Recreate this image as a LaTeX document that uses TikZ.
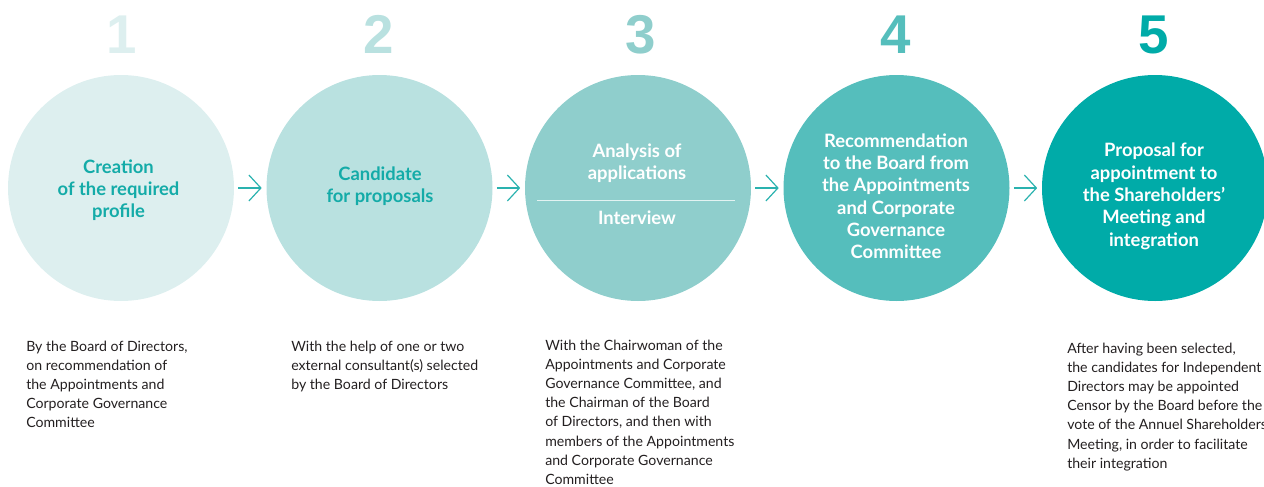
\documentclass[tikz,border=0pt]{standalone}
\usepackage{fontspec}
\setmainfont{Lato}
\setsansfont{Liberation Sans}
\usetikzlibrary{arrows.meta}
\definecolor{cA}{HTML}{DDEFEF}
\definecolor{cB}{HTML}{B9E1E0}
\definecolor{cC}{HTML}{8FCECC}
\definecolor{cD}{HTML}{55BEBC}
\definecolor{cE}{HTML}{00ABA8}
\definecolor{tealtext}{HTML}{14ABA8}
\definecolor{arrowc}{HTML}{2AB2AF}
\definecolor{bodytext}{HTML}{231F20}
\definecolor{divider}{HTML}{E3F3F2}
\newcommand{\bodypar}[1]{\parbox[t]{230pt}{\raggedright\fontsize{10.6}{14.4}\selectfont #1}}
\newcommand{\circpar}[1]{\parbox[t]{200pt}{\centering\bfseries\fontsize{13.8}{16.75}\selectfont #1}}
\begin{document}
\begin{tikzpicture}[x=0.75pt,y=-0.75pt,
  stage/.style={circle, minimum size=169.5pt, inner sep=0pt, fill=#1},
  num/.style={font=\sffamily\bfseries\fontsize{41}{41}\selectfont, text=#1, anchor=base, inner sep=0pt},
  ctext/.style={anchor=base, inner sep=0pt, text=#1},
  body/.style={anchor=base west, inner sep=0pt, text=bodytext},
  arr/.style={draw=arrowc, line width=0.9pt,
    -{Straight Barb[length=9pt,width=19.5pt,line width=0.9pt]},
    shorten <=3pt, shorten >=3.4pt}
]
\useasboundingbox (0,0) rectangle (1264,486);
\clip (0,0) rectangle (1264,486);

% numbers
\node[num=cA] (n1) at (122,53) {1};
\node[num=cB] (n2) at (379,53) {2};
\node[num=cC] (n3) at (641,53) {3};
\node[num=cD] (n4) at (896,53) {4};
\node[num=cE] (n5) at (1154,53) {5};

% circles
\node[stage=cA] (s1) at (121,188) {};
\node[stage=cB] (s2) at (379.5,188) {};
\node[stage=cC] (s3) at (638,188) {};
\node[stage=cD] (s4) at (896.5,188) {};
\node[stage=cE] (s5) at (1155,188) {};

% arrows
\draw[arr] (s1) -- (s2);
\draw[arr] (s2) -- (s3);
\draw[arr] (s3) -- (s4);
\draw[arr] (s4) -- (s5);

% circle texts
\node[ctext=tealtext] (l1) at (118.5,173) {\circpar{Creation\\of the required\\profile}};
\node[ctext=tealtext] (l2) at (380,180) {\circpar{Candidate\\for proposals}};
\node[ctext=white] (l3a) at (637,157.5) {\circpar{Analysis of\\applications}};
\draw[divider, line width=0.9pt] (537,200.7) -- (735,200.7);
\node[ctext=white] (l3b) at (637,224) {\circpar{Interview}};
\node[ctext=white] (l4) at (896,147.3) {\circpar{Recommendation\\to the Board from\\the Appointments\\and Corporate\\Governance\\Committee}};
\node[ctext=white] (l5) at (1154,156.7) {\circpar{Proposal for\\appointment to\\the Shareholders’\\Meeting and\\integration}};

% body texts
\node[body] (b1) at (26,351) {\bodypar{By the Board of Directors,\\on recommendation of\\the Appointments and\\Corporate Governance\\Committee}};
\node[body] (b2) at (291,351) {\bodypar{With the help of one or two\\external consultant(s) selected\\by the Board of Directors}};
\node[body] (b3) at (545,350) {\bodypar{With the Chairwoman of the\\Appointments and Corporate\\Governance Committee, and\\the Chairman of the Board\\of Directors, and then with\\members of the Appointments\\and Corporate Governance\\Committee}};
\node[body] (b5) at (1067,353) {\bodypar{After having been selected,\\the candidates for Independent\\Directors may be appointed\\Censor by the Board before the\\vote of the Annuel Shareholders\\Meeting, in order to facilitate\\their integration}};
\end{tikzpicture}
\end{document}
